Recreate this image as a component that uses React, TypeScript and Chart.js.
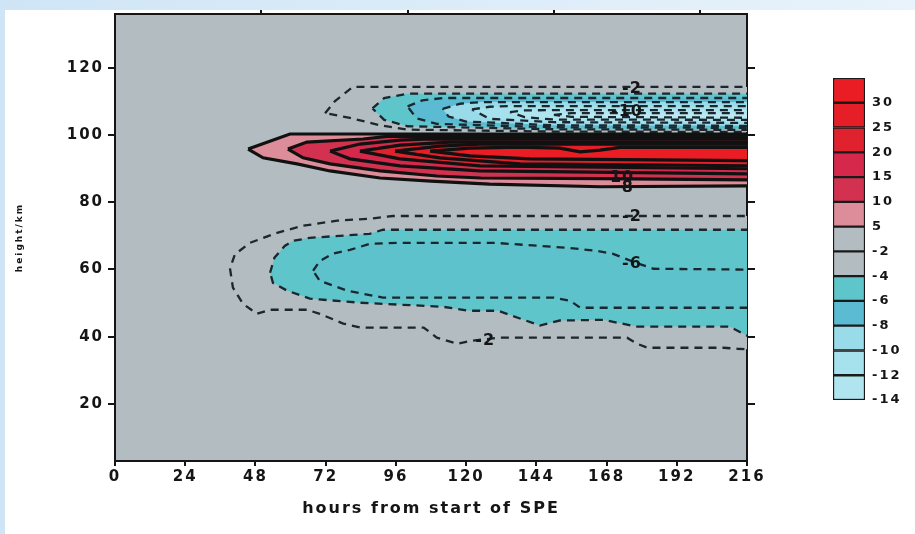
import React, { useEffect, useRef } from "react";
import { Chart, registerables } from "chart.js";

Chart.register(...registerables);

type Pt = [number, number];

// ---- axis ticks ----
const HOUR_TICKS = [0, 24, 48, 72, 96, 120, 144, 168, 192, 216];
const TOP_TICKS = [50, 100, 150, 200];
const ALT_TICKS = [20, 40, 60, 80, 100, 120];

// ---- contour polygons: [hours, altitude km] ----
// lower negative region
const NEG2_LOW: Pt[] = [[39.3,60.3],[40.3,54.6],[43.7,49.8],[48.5,46.8],[53,48.0],[65.6,48.0],[70,46.8],[78,43.9],[84,42.7],[105.5,42.7],[110,39.7],[117,37.9],[122,38.8],[131.6,39.7],[175,39.7],[178.4,37.9],[182,36.7],[208,36.7],[212.6,36.4],[222,36.0],[222,75.9],[95,75.9],[87,75.1],[75.9,74.5],[64.3,73.0],[55.4,70.9],[46.1,67.9],[41,64.5]];
const NEG4_LOW: Pt[] = [[53,59.0],[54.5,63.5],[58,67],[60.8,68.5],[66.6,69.4],[87,70.6],[91.6,71.8],[222,71.8],[222,40.3],[216,40.3],[210,43.0],[178.4,43.0],[166.8,45.0],[152,44.8],[145.2,43.3],[138.4,45.4],[131,47.7],[121,47.7],[112,48.9],[83.7,50.1],[66.6,51.3],[58.8,53.7],[54,56]];
const NEG6_LOW: Pt[] = [[67.7,59.6],[70,62.5],[74.5,64.7],[80.3,65.8],[87,67.6],[96.4,67.9],[130,67.9],[155,66.4],[164.7,65.5],[170,64.7],[178,62],[184,60.2],[222,59.9],[222,48.6],[159,48.6],[155.5,50.7],[150,51.6],[91.6,51.6],[79.3,53.7],[70,56.6]];
// upper negative region
const NEG2_UP: Pt[] = [[71.8,106.5],[75.2,110.1],[81.3,114.3],[222,114.3],[222,100.9],[150,101.0],[100,101.6],[90.6,102.9],[80.3,105.1]];
const NEG4_UP: Pt[] = [[88,107.9],[92,111.0],[100,112.3],[222,112.3],[222,101.5],[150,101.7],[100,102.6],[92,104.5]];
const NEG6_UP: Pt[] = [[100,108.5],[105,110.3],[112,111.0],[222,111.0],[222,102.1],[150,102.3],[110,103.3],[103,105]];
const NEG8_UP: Pt[] = [[112,107.8],[118,109.3],[125,109.8],[222,109.8],[222,102.7],[150,102.9],[120,104.0],[114,105.5]];
const NEG10_UP: Pt[] = [[122,107.6],[128,108.4],[135,108.6],[222,108.6],[222,103.6],[150,103.8],[128,104.8]];
const NEG12_UP: Pt[] = [[135,106.8],[140,107.3],[148,107.4],[222,107.4],[222,104.5],[150,104.6],[140,105.3]];
const NEG14_UP: Pt[] = [[150,106.0],[156,106.5],[222,106.5],[222,105.1],[156,105.4]];
// positive band
const POS5: Pt[] = [[45.5,95.8],[59.8,100.3],[222,100.3],[222,84.9],[166,84.6],[128,85.4],[108,86.3],[90.6,87.2],[73.5,89.3],[62.2,91.4],[50.6,93.2]];
const POS10: Pt[] = [[59.1,95.8],[65.6,97.9],[84.8,98.8],[93,99.6],[222,99.6],[222,86.6],[166,87.0],[125,87.2],[110,87.8],[90.6,89.3],[73.5,91.4],[64.3,93.2]];
const POS15: Pt[] = [[73.5,95.2],[83.7,97.3],[97.4,98.5],[107.7,98.8],[222,98.8],[222,88.4],[124.7,89.3],[97.4,90.8],[80.3,92.9]];
const POS20: Pt[] = [[83.7,95.2],[97.4,97.0],[114.5,97.9],[222,97.9],[222,89.9],[124.7,90.8],[97.4,92.9]];
const POS25: Pt[] = [[95.7,95.2],[111,96.7],[124.7,97.3],[222,97.3],[222,90.8],[138.4,91.4],[111,93.2]];
const POS30: Pt[] = [[107.7,95.2],[121.3,96.1],[138.4,96.4],[152,96.1],[159,95.0],[165.8,95.5],[172.6,96.3],[222,96.3],[222,92.3],[141.8,92.9],[121.3,93.8]];

// ---- contour labels ----
const LABEL_TEXT = ["-2", "-10", "10", "8", "-2", "-6", "-2"];
const LABEL_HOUR = [176.7, 175, 173.3, 175.3, 176.7, 176.7, 126.5];
const LABEL_ALT = [113.7, 106.8, 87.2, 84.3, 75.6, 61.7, 38.8];

// ---- colour scale ----
const LEVEL_LABELS = ["-14", "-12", "-10", "-8", "-6", "-4", "-2", "5", "10", "15", "20", "25", "30"];
const LEVEL_COLORS = ["#b0e5f0", "#a6e1ee", "#9adbea", "#5bbbd2", "#5ec5cb", "#b3bcc1", "#b3bcc1", "#dd8d9a", "#d23250", "#d6284a", "#e0222e", "#e61e28", "#ea1c24"];

const GRAY = "#b3bcc1";
const DEEPEST = "#bae9f3";
const INNER_TEAL = "#5dc2cc";

const FONT_FAMILY = '"DejaVu Sans", sans-serif';
const INK = "#151515";

function poly(pts: Pt[], color: string, dashed: boolean) {
  const closed = [...pts, pts[0]];
  return {
    data: closed.map(([x, y]) => ({ x, y })),
    showLine: true,
    fill: "shape",
    backgroundColor: color,
    borderColor: dashed ? "#1b272e" : "#111111",
    borderWidth: dashed ? 2.3 : 3.2,
    borderDash: dashed ? [8, 6] : [],
    pointRadius: 0,
    tension: 0,
  };
}

const spacingPlugin = {
  id: "spacing",
  beforeLayout(chart: any) { chart.ctx.letterSpacing = "2px"; },
  beforeDraw(chart: any) { chart.ctx.letterSpacing = "2px"; },
};

const bgPlugin = {
  id: "plotbg",
  beforeDraw(chart: any) {
    const a = chart.chartArea;
    const ctx = chart.ctx;
    ctx.save();
    ctx.fillStyle = GRAY;
    ctx.fillRect(a.left, a.top, a.right - a.left, a.bottom - a.top);
    ctx.restore();
  },
};

const labelPlugin = {
  id: "contourLabels",
  afterDatasetsDraw(chart: any) {
    const ctx = chart.ctx;
    const xs = chart.scales.x;
    const ys = chart.scales.y;
    ctx.save();
    ctx.font = `bold 16px ${FONT_FAMILY}`;
    ctx.letterSpacing = "1px";
    ctx.fillStyle = INK;
    ctx.textAlign = "center";
    ctx.textBaseline = "middle";
    LABEL_TEXT.forEach((t, i) => {
      ctx.fillText(t, xs.getPixelForValue(LABEL_HOUR[i]), ys.getPixelForValue(LABEL_ALT[i]));
    });
    ctx.restore();
  },
};

export default function App() {
  const mainRef = useRef<HTMLCanvasElement>(null);
  const legRef = useRef<HTMLCanvasElement>(null);

  useEffect(() => {
    const layers: any[] = [
      poly(NEG2_LOW, GRAY, true),
      poly(NEG4_LOW, LEVEL_COLORS[4], true),
      poly(NEG6_LOW, INNER_TEAL, true),
      poly(NEG2_UP, GRAY, true),
      poly(NEG4_UP, LEVEL_COLORS[4], true),
      poly(NEG6_UP, LEVEL_COLORS[3], true),
      poly(NEG8_UP, LEVEL_COLORS[2], true),
      poly(NEG10_UP, LEVEL_COLORS[1], true),
      poly(NEG12_UP, LEVEL_COLORS[0], true),
      poly(NEG14_UP, DEEPEST, true),
      poly(POS5, LEVEL_COLORS[7], false),
      poly(POS10, LEVEL_COLORS[8], false),
      poly(POS15, LEVEL_COLORS[9], false),
      poly(POS20, LEVEL_COLORS[10], false),
      poly(POS25, LEVEL_COLORS[11], false),
      poly(POS30, LEVEL_COLORS[12], false),
    ];
    // dataset 0 is drawn last in Chart.js, so reverse paint order
    const datasets = layers.slice().reverse();

    const tickFont = { family: FONT_FAMILY, size: 15, weight: "bold" as const };
    const axisCommon = { z: 1 };

    const main = new Chart(mainRef.current!, {
      type: "scatter",
      data: { datasets },
      plugins: [spacingPlugin, bgPlugin, labelPlugin],
      options: {
        animation: false,
        responsive: false,
        events: [],
        layout: { padding: 0 },
        plugins: {
          legend: { display: false },
          tooltip: { enabled: false },
          filler: { propagate: false },
        },
        scales: {
          x: {
            ...axisCommon,
            type: "linear",
            position: "bottom",
            min: 0,
            max: 216,
            afterBuildTicks: (s: any) => { s.ticks = HOUR_TICKS.map((v) => ({ value: v })); },
            ticks: { font: tickFont, color: INK, padding: 2, maxRotation: 0, autoSkip: false },
            grid: { drawOnChartArea: false, tickLength: 5, color: INK, lineWidth: 2 },
            border: { display: true, color: INK, width: 2 },
            title: {
              display: true,
              text: "hours from start of SPE",
              font: { family: FONT_FAMILY, size: 16, weight: "bold" },
              color: INK,
              padding: { top: 0, bottom: 16 },
            },
            afterFit: (s: any) => { s.height = 73; },
          },
          x2: {
            ...axisCommon,
            type: "linear",
            position: "top",
            min: 0,
            max: 216,
            afterBuildTicks: (s: any) => { s.ticks = TOP_TICKS.map((v) => ({ value: v })); },
            ticks: { display: false },
            grid: { drawOnChartArea: false, tickLength: 4, color: INK, lineWidth: 2 },
            border: { display: true, color: INK, width: 2 },
            afterFit: (s: any) => { s.height = 14; },
          },
          y: {
            ...axisCommon,
            type: "linear",
            position: "left",
            min: 3,
            max: 136,
            afterBuildTicks: (s: any) => { s.ticks = ALT_TICKS.map((v) => ({ value: v })); },
            ticks: { font: tickFont, color: INK, padding: 4, autoSkip: false },
            grid: { drawOnChartArea: false, tickLength: 7, color: INK, lineWidth: 2 },
            border: { display: true, color: INK, width: 2 },
            title: {
              display: true,
              text: "height/km",
              font: { family: FONT_FAMILY, size: 9, weight: "bold" },
              color: INK,
              padding: { top: 14, bottom: 0 },
            },
            afterFit: (s: any) => { s.width = 115; },
          },
          y2: {
            ...axisCommon,
            type: "linear",
            position: "right",
            min: 3,
            max: 136,
            afterBuildTicks: (s: any) => { s.ticks = ALT_TICKS.map((v) => ({ value: v })); },
            ticks: { display: false },
            grid: { drawOnChartArea: false, tickLength: 8, color: INK, lineWidth: 2 },
            border: { display: true, color: INK, width: 2 },
            afterFit: (s: any) => { s.width = 53; },
          },
        },
      } as any,
    });

    const legend = new Chart(legRef.current!, {
      type: "bar",
      data: {
        labels: [""],
        datasets: LEVEL_COLORS.map((c) => ({
          data: [1],
          backgroundColor: c,
          borderColor: "#1a1a1a",
          borderWidth: 1.5,
          borderSkipped: false,
          barPercentage: 1,
          categoryPercentage: 1,
        })),
      },
      plugins: [spacingPlugin],
      options: {
        animation: false,
        responsive: false,
        events: [],
        layout: { padding: { top: 18, bottom: 20, left: 0, right: 0 } },
        plugins: { legend: { display: false }, tooltip: { enabled: false } },
        scales: {
          x: { display: false, stacked: true },
          y: {
            stacked: true,
            position: "right",
            min: 0,
            max: 13,
            afterBuildTicks: (s: any) => { s.ticks = LEVEL_LABELS.map((_, i) => ({ value: i })); },
            ticks: {
              font: { family: FONT_FAMILY, size: 13, weight: "bold" },
              color: INK,
              padding: 7,
              autoSkip: false,
              callback: (_v: any, i: number) => LEVEL_LABELS[i],
            },
            grid: { display: false, drawTicks: false },
            border: { display: false },
            afterFit: (s: any) => { s.width = 50; },
          },
        },
      } as any,
    });

    return () => {
      main.destroy();
      legend.destroy();
    };
  }, []);

  return (
    <div
      style={{
        position: "fixed",
        left: 0,
        top: 0,
        width: 915,
        height: 534,
        overflow: "hidden",
        background: "linear-gradient(90deg, #cfe5f6, #e8f3fb)",
      }}
    >
      <div style={{ position: "absolute", left: 5, top: 10, right: 0, bottom: 0, background: "#ffffff" }} />
      <canvas
        ref={mainRef}
        width={800}
        height={534}
        style={{ position: "absolute", left: 0, top: 0, width: 800, height: 534 }}
      />
      <canvas
        ref={legRef}
        width={82}
        height={360}
        style={{ position: "absolute", left: 833, top: 60, width: 82, height: 360 }}
      />
    </div>
  );
}
